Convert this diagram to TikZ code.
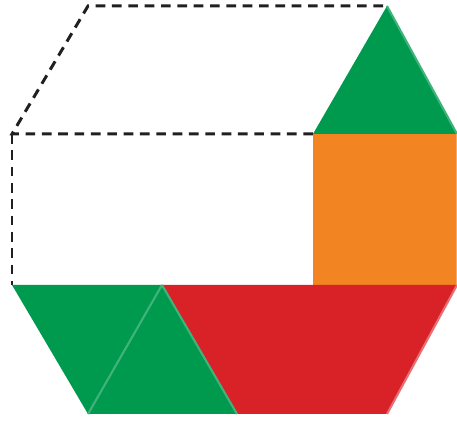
\documentclass[tikz,border=0pt]{standalone}
\usepackage{tikz}
\definecolor{BlockGreen}{RGB}{0,154,78}
\definecolor{BlockOrange}{RGB}{242,133,34}
\definecolor{BlockRed}{RGB}{217,33,40}
\definecolor{Outline}{RGB}{35,31,32}
\begin{document}
\begin{tikzpicture}[
    x=0.02cm, y=-0.02cm,
    outline/.style={draw=Outline, line width=1.7pt, dash pattern=on 5.5pt off 3.8pt},
    triblock/.style={fill=BlockGreen},
    squareblock/.style={fill=BlockOrange},
    trapblock/.style={fill=BlockRed},
    bevel/.style={draw=#1, line width=1.2pt, line join=miter}
  ]
    \useasboundingbox (0,0) rectangle (457,421);
    % corner points of the hexagon
    \coordinate (topL) at (88,6);
    \coordinate (topR) at (387,6);
    \coordinate (midL) at (12,134);
    \coordinate (midC) at (313,134);
    \coordinate (midR) at (457,134);
    \coordinate (lowL) at (12,285);
    \coordinate (lowA) at (162,285);
    \coordinate (lowC) at (313,285);
    \coordinate (lowR) at (457,285);
    \coordinate (botL) at (88,414);
    \coordinate (botA) at (237,414);
    \coordinate (botR) at (387,414);
    % dashed outline of the missing part
    \draw[outline] (midC) -- (midL) -- (topL) -- (topR);
    \draw[outline] (midL) -- (lowL);
    % blocks
    \fill[triblock] (midC) -- (topR) -- (midR) -- cycle;
    \fill[squareblock] (midC) rectangle (lowR);
    \fill[triblock] (lowL) -- (lowA) -- (botL) -- cycle;
    \fill[triblock] (lowA) -- (botA) -- (botL) -- cycle;
    \fill[trapblock] (lowA) -- (lowR) -- (botR) -- (botA) -- cycle;
    % light edges
    \draw[bevel=BlockGreen!75!white] (topR) -- (midR);
    \draw[bevel=BlockGreen!75!white] (lowA) -- (botL);
    \draw[bevel=BlockGreen!75!white] (lowA) -- (botA);
    \draw[bevel=BlockOrange!70!white] (midR) -- (lowR);
    \draw[bevel=BlockRed!65!white] (lowR) -- (botR);
\end{tikzpicture}
\end{document}
